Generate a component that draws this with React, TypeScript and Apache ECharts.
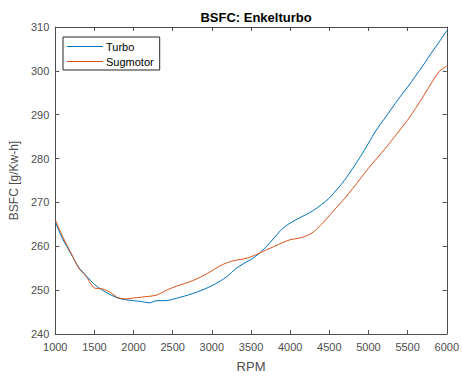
import React, { useEffect, useRef } from "react";
import * as echarts from "echarts";

const rpm = [1000, 1100, 1200, 1300, 1400, 1500, 1600, 1700, 1800, 1900, 2000, 2100, 2200, 2300, 2400, 2500, 2600, 2700, 2800, 2900, 3000, 3100, 3200, 3300, 3400, 3500, 3600, 3700, 3800, 3900, 4000, 4100, 4200, 4300, 4400, 4500, 4600, 4700, 4800, 4900, 5000, 5100, 5200, 5300, 5400, 5500, 5600, 5700, 5800, 5900, 6000];

const turbo = [265.5, 261.5, 258.3, 255.2, 253.2, 251.3, 250.0, 249.0, 248.2, 247.8, 247.6, 247.4, 247.1, 247.6, 247.6, 247.9, 248.4, 248.9, 249.5, 250.2, 251.0, 252.0, 253.2, 254.8, 256.0, 257.0, 258.3, 260.0, 262.0, 264.0, 265.3, 266.3, 267.2, 268.2, 269.5, 271.0, 273.0, 275.2, 277.8, 280.5, 283.5, 286.5, 289.0, 291.5, 294.0, 296.3, 298.8, 301.3, 304.0, 306.5, 309.2];

const sugmotor = [266.0, 262.0, 258.5, 255.0, 253.0, 250.5, 250.3, 249.5, 248.3, 248.0, 248.2, 248.4, 248.6, 248.9, 249.8, 250.6, 251.2, 251.8, 252.5, 253.4, 254.4, 255.5, 256.3, 256.8, 257.1, 257.6, 258.4, 259.2, 260.0, 260.8, 261.5, 261.8, 262.3, 263.3, 265.0, 267.0, 269.0, 271.0, 273.2, 275.5, 277.8, 279.9, 282.0, 284.2, 286.5, 288.8, 291.4, 294.2, 297.1, 299.8, 301.1];

const xMin = 1000, xMax = 6000, xStep = 500;
const yMin = 240, yMax = 310, yStep = 10;

export default function App() {
  const ref = useRef<HTMLDivElement>(null);
  useEffect(() => {
    if (!ref.current) return;
    const chart = echarts.init(ref.current, null, { renderer: "svg" });
    const axisCol = "#4d4d4d";
    const font = "Helvetica, Arial, 'Liberation Sans', sans-serif";
    const baseX = {
      type: "value" as const,
      min: xMin,
      max: xMax,
      interval: xStep,
      axisLine: { show: true, lineStyle: { color: axisCol, width: 1 } },
      axisTick: { show: true, inside: true, length: 4, lineStyle: { color: axisCol } },
      splitLine: { show: false },
    };
    const baseY = {
      type: "value" as const,
      min: yMin,
      max: yMax,
      interval: yStep,
      axisLine: { show: true, lineStyle: { color: axisCol, width: 1 } },
      axisTick: { show: true, inside: true, length: 4, lineStyle: { color: axisCol } },
      splitLine: { show: false },
    };
    chart.setOption({
      animation: false,
      backgroundColor: "#ffffff",
      title: {
        text: "BSFC: Enkelturbo",
        left: 251,
        textAlign: "center",
        top: 6,
        textStyle: { fontSize: 13, fontWeight: "bold", color: "#000", fontFamily: font },
      },
      legend: {
        orient: "vertical",
        left: 63,
        top: 37,
        padding: [4, 6, 3, 4],
        itemWidth: 36,
        itemHeight: 1,
        itemGap: 4,
        backgroundColor: "#ffffff",
        borderColor: "#262626",
        borderWidth: 1,
        borderRadius: 0,
        textStyle: { fontSize: 11, color: "#000", fontFamily: font, padding: [0, 0, 0, -2] },
        data: [
          { name: "Turbo", icon: "rect" },
          { name: "Sugmotor", icon: "rect" },
        ],
      },
      grid: { left: 53, right: 13, top: 27, bottom: 39, containLabel: false },
      xAxis: [
        {
          ...baseX,
          position: "bottom",
          name: "RPM",
          nameLocation: "middle",
          nameGap: 26,
          nameTextStyle: { fontSize: 13, color: axisCol, fontFamily: font },
          axisLabel: {
            show: true,
            color: axisCol,
            fontSize: 11,
            margin: 7,
            fontFamily: font,
            formatter: (v: number) => String(v),
          },
        },
        { ...baseX, position: "top", axisLabel: { show: false } },
      ],
      yAxis: [
        {
          ...baseY,
          position: "left",
          name: "BSFC [g/Kw-h]",
          nameLocation: "middle",
          nameGap: 29,
          nameTextStyle: { fontSize: 12, color: axisCol, fontFamily: font },
          axisLabel: {
            show: true,
            color: axisCol,
            fontSize: 11,
            margin: 6,
            fontFamily: font,
            formatter: (v: number) => String(v),
          },
        },
        { ...baseY, position: "right", axisLabel: { show: false } },
      ],
      series: [
        {
          name: "Turbo",
          type: "line",
          data: rpm.map((r, i) => [r, turbo[i]]),
          symbol: "none",
          smooth: 0.3,
          lineStyle: { color: "#0072BD", width: 1 },
          itemStyle: { color: "#0072BD" },
        },
        {
          name: "Sugmotor",
          type: "line",
          data: rpm.map((r, i) => [r, sugmotor[i]]),
          symbol: "none",
          smooth: 0.3,
          lineStyle: { color: "#D95319", width: 1 },
          itemStyle: { color: "#D95319" },
        },
      ],
    });
    return () => chart.dispose();
  }, []);
  return <div ref={ref} style={{ width: 462, height: 378, position: "absolute", left: 0, top: 0 }} />;
}
